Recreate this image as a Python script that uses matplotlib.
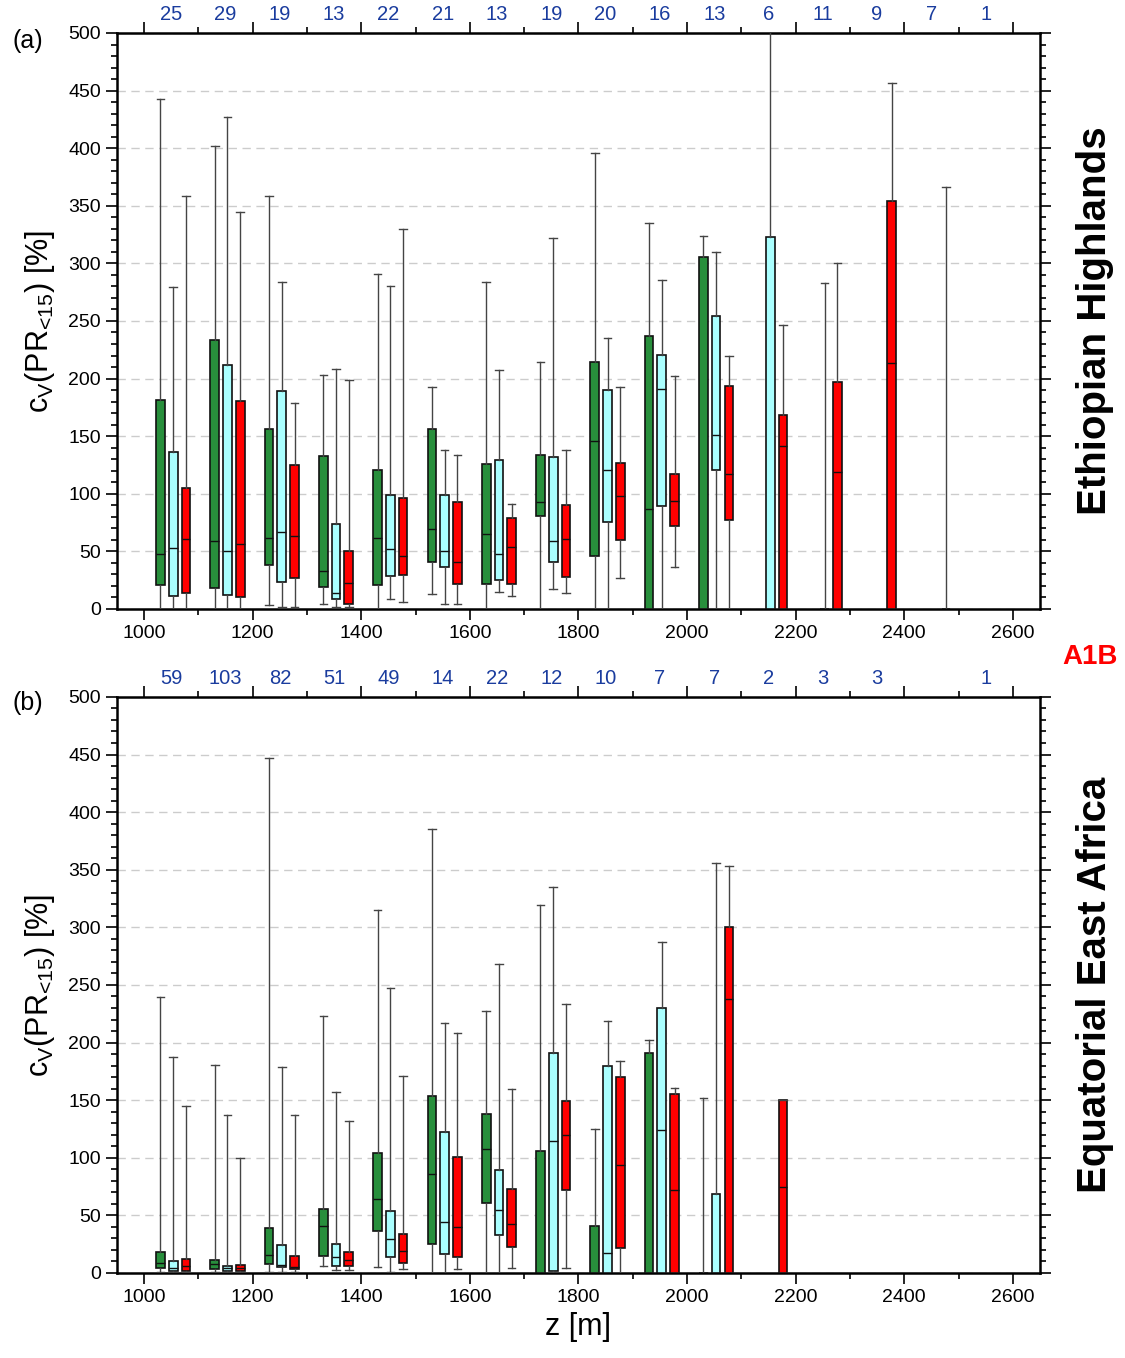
import matplotlib
matplotlib.use("Agg")
import matplotlib.pyplot as plt
import matplotlib.transforms as mtransforms
from matplotlib.ticker import MultipleLocator

plt.rcParams["font.family"] = ["Liberation Sans", "DejaVu Sans"]
plt.rcParams["mathtext.fontset"] = "custom"
plt.rcParams["mathtext.rm"] = "Liberation Sans"
plt.rcParams["mathtext.it"] = "Liberation Sans"

# elevation bins (lower edge, m)
bin_edges = [1000, 1100, 1200, 1300, 1400, 1500, 1600, 1700,
             1800, 1900, 2000, 2100, 2200, 2300, 2400, 2500]

# number of samples per bin (top axis)
eth_counts = ["25", "29", "19", "13", "22", "21", "13", "19",
              "20", "16", "13", "6", "11", "9", "7", "1"]
eea_counts = ["59", "103", "82", "51", "49", "14", "22", "12",
              "10", "7", "7", "2", "3", "3", "", "1"]

# box stats per bin: (whisker low, q1, median, q3, whisker high), None = empty
eth_green = [(0, 21, 48, 181, 443), (0, 18.5, 59, 233.5, 402), (3.5, 38, 62, 156, 358.5),
             (4.3, 19.4, 32.7, 132.5, 203.4), (0, 21, 61.6, 120.4, 290.5), (13.3, 40.8, 69.4, 156.2, 192.4),
             (0, 22, 64.8, 126.2, 283.5), (0, 80.7, 93.2, 134, 214.4), (0, 46.3, 145.6, 214.1, 396),
             (0, 0, 86.5, 237, 335), (0, 0, 0, 305.6, 324), None, None, None, None, None]
eth_cyan = [(0, 11.3, 52.7, 136.3, 279.2), (0, 12.2, 50, 211.8, 427.4), (1.4, 23.4, 66.6, 189.5, 284.2),
            (2, 8.4, 13.6, 73.5, 208), (8.7, 28.9, 52.1, 98.7, 280.4), (4.6, 36.2, 50, 99, 137.7),
            (15, 24.9, 47.7, 129.6, 207), (17.1, 40.5, 59.3, 131.7, 321.8), (0, 75.2, 120.7, 189.8, 235),
            (0, 89.7, 190.7, 220.8, 285.3), (0, 120.4, 151.3, 254.3, 310.2), (0, 0, 0, 322.9, 520),
            (0, 0, 0, 0, 282.6), None, None, None]
eth_red = [(0, 14.2, 61, 104.8, 358.8), (0, 10.4, 56.4, 180.3, 344.3), (2, 26.6, 63.1, 125.3, 179.2),
           (2, 4.6, 22.3, 50.3, 198.8), (6.1, 29.2, 45.7, 96.1, 329.6), (4.6, 21.7, 40.5, 92.6, 134),
           (11.6, 22, 54.1, 79, 90.8), (14.2, 27.5, 61, 90.3, 138.3), (27.2, 60.2, 98.1, 126.4, 192.7),
           (36.2, 71.8, 94, 117.2, 202.6), (0, 77.3, 116.8, 193.6, 219.3), (0, 0, 141.8, 168.1, 246.2),
           (0, 0, 118.9, 196.8, 300.6), (0, 0, 213.8, 354.2, 456.3), (0, 0, 0, 0, 366.6), None]

eea_green = [(1.2, 4, 8.4, 18.5, 239.3), (1, 3.8, 7.5, 11, 180.1), (1, 7.5, 15.9, 39, 447.4),
             (5.8, 14.5, 41, 55.5, 222.8), (4.9, 36.4, 64.4, 104.3, 315.3), (0, 24.9, 86.1, 153.7, 385.6),
             (0, 61, 107.2, 138.1, 227.4), (0, 0, 0, 105.8, 319.1), (0, 0, 0, 41, 124.9),
             (0, 0, 0, 191, 202), (0, 0, 0, 0, 152.3), None, None, None, None, None]
eea_cyan = [(0, 2, 4.3, 10.7, 187.6), (0, 1.7, 4.3, 6, 137.3), (0.5, 4.9, 7.2, 24.6, 178.6),
            (2.3, 5.8, 13.9, 25.4, 157.5), (1, 13.6, 29.2, 54, 247.4), (0, 16.2, 44, 122.5, 217.4),
            (0, 33, 54.9, 89.3, 268.2), (0, 1.7, 114.5, 191, 335.3), (0, 0, 17.3, 179.5, 218.8),
            (0, 0, 123.7, 230, 287), (0, 0, 0, 68.5, 356.1), None, None, None, None, None]
eea_red = [(0.5, 2, 5.8, 12.4, 145.1), (0, 1.7, 4.6, 6.6, 100), (0.5, 3.2, 5.5, 14.5, 137.3),
           (2.3, 5.8, 11, 17.9, 132), (3.2, 8.9, 19.3, 33.8, 171.4), (3.2, 14.2, 40.2, 100.8, 208.4),
           (4.6, 22.5, 42.2, 73.1, 160.1), (4, 71.7, 119.4, 149.4, 233.2), (0, 21.4, 93.6, 170.2, 184.4),
           (0, 0, 72.3, 155.5, 160.7), (0, 0, 238.2, 300, 353.5), (0, 0, 74.6, 150, 150),
           None, None, None, None]

series_offsets = [30, 53.5, 77]
series_colors = ["#288f3c", "#aaffff", "#ff0000"]


def draw_boxes(ax, series):
    for data, off, color in zip(series, series_offsets, series_colors):
        stats, pos = [], []
        for edge, row in zip(bin_edges, data):
            if row is None:
                continue
            lo, q1, med, q3, hi = row
            stats.append({"whislo": lo, "q1": q1, "med": med, "q3": q3,
                          "whishi": hi, "fliers": []})
            pos.append(edge + off)
        ax.bxp(stats, positions=pos, widths=16, capwidths=14, patch_artist=True,
               showfliers=False,
               boxprops=dict(facecolor=color, edgecolor="#111111", linewidth=1.2),
               medianprops=dict(color="#111111", linewidth=1.0),
               whiskerprops=dict(color="#444444", linewidth=1.0),
               capprops=dict(color="#444444", linewidth=1.0),
               manage_ticks=False, zorder=3)


def style_axis(ax, counts):
    ax.set_xlim(950, 2650)
    ax.set_ylim(0, 500)
    ax.xaxis.set_major_locator(MultipleLocator(200))
    ax.xaxis.set_minor_locator(MultipleLocator(100))
    ax.yaxis.set_major_locator(MultipleLocator(50))
    ax.yaxis.set_minor_locator(MultipleLocator(10))
    ax.set_xticks(range(1000, 2601, 200))
    ax.tick_params(which="both", direction="out", top=True, right=True,
                   labelsize=14, width=1.2)
    ax.tick_params(which="major", length=8)
    ax.tick_params(which="minor", length=4)
    for sp in ax.spines.values():
        sp.set_linewidth(1.8)
    ax.set_axisbelow(True)
    ax.yaxis.grid(True, which="major", linestyle=(0, (6, 4)), color="#cccccc", linewidth=1)
    ax.set_ylabel(r"$\mathregular{c_V(PR_{\text{<15}})}$ [%]", fontsize=22, labelpad=8)
    trans = mtransforms.blended_transform_factory(ax.transData, ax.transAxes)
    for edge, c in zip(bin_edges, counts):
        ax.text(edge + 50, 1.016, c, transform=trans, ha="center", va="bottom",
                fontsize=14.5, color="#1a3c9e")


fig = plt.figure(figsize=(11.25, 13.58), dpi=100)
ax1 = fig.add_axes([0.104, 0.5516, 0.8204, 0.4241])
ax2 = fig.add_axes([0.104, 0.0626, 0.8204, 0.4242])

draw_boxes(ax1, [eth_green, eth_cyan, eth_red])
draw_boxes(ax2, [eea_green, eea_cyan, eea_red])
style_axis(ax1, eth_counts)
style_axis(ax2, eea_counts)
ax2.set_xlabel("z [m]", fontsize=22)

fig.text(0.025, 0.970, "(a)", fontsize=18, ha="center", va="center")
fig.text(0.025, 0.482, "(b)", fontsize=18, ha="center", va="center")
fig.text(0.969, 0.516, "A1B", fontsize=20, color="red", fontweight="bold",
         ha="center", va="center")
fig.text(0.973, 0.764, "Ethiopian Highlands", fontsize=29, fontweight="bold",
         rotation=90, ha="center", va="center")
fig.text(0.973, 0.275, "Equatorial East Africa", fontsize=29, fontweight="bold",
         rotation=90, ha="center", va="center")

fig.savefig("out.png", dpi=100)
